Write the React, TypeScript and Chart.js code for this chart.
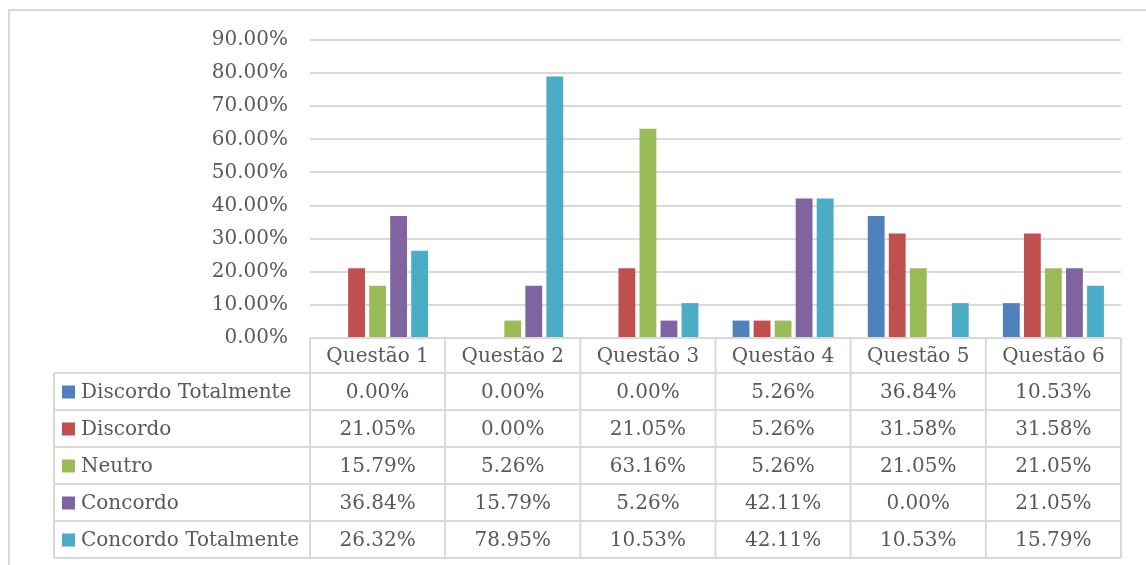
import React, { useEffect, useRef } from "react";
import { Chart, registerables } from "chart.js";

Chart.register(...registerables);

const categories = ["Questão 1", "Questão 2", "Questão 3", "Questão 4", "Questão 5", "Questão 6"];
const seriesNames = ["Discordo Totalmente", "Discordo", "Neutro", "Concordo", "Concordo Totalmente"];
const discordoTotalmente = [0.0, 0.0, 0.0, 5.26, 36.84, 10.53];
const discordo = [21.05, 0.0, 21.05, 5.26, 31.58, 31.58];
const neutro = [15.79, 5.26, 63.16, 5.26, 21.05, 21.05];
const concordo = [36.84, 15.79, 5.26, 42.11, 0.0, 21.05];
const concordoTotalmente = [26.32, 78.95, 10.53, 42.11, 10.53, 15.79];
const seriesColors = ["#4F81BD", "#C0504D", "#9BBB59", "#8064A2", "#4BACC6"];
const yMax = 90;
const yStep = 10;

const FONT = "DejaVu Serif";
const TEXT = "#595959";
const LINE = "#d9d9d9";

const W = 1146;
const H = 565;

const tablePlugin = {
  id: "dataTable",
  afterDraw(chart: any) {
    const ctx = chart.ctx as CanvasRenderingContext2D;
    const area = chart.chartArea;
    const left = area.left;
    const right = area.right;
    const top = area.bottom;
    const colW = (right - left) / categories.length;
    const headerH = 35;
    const rowH = 37;
    const legendLeft = 54;
    const bottom = top + headerH + rowH * seriesNames.length;
    const allSeries = chart.data.datasets.map((d: any) => d.data as number[]);

    ctx.save();
    // outer chart border
    ctx.strokeStyle = LINE;
    ctx.lineWidth = 2;
    ctx.beginPath();
    ctx.moveTo(9, H + 5);
    ctx.lineTo(9, 10);
    ctx.lineTo(W + 5, 10);
    ctx.stroke();

    // table grid
    ctx.lineWidth = 2;
    ctx.beginPath();
    ctx.moveTo(left, top);
    ctx.lineTo(right, top);
    for (let r = 0; r <= seriesNames.length; r++) {
      const y = top + headerH + r * rowH;
      ctx.moveTo(legendLeft, y);
      ctx.lineTo(right, y);
    }
    for (let c = 0; c <= categories.length; c++) {
      const x = left + c * colW;
      ctx.moveTo(x, top);
      ctx.lineTo(x, bottom);
    }
    ctx.moveTo(legendLeft, top + headerH);
    ctx.lineTo(legendLeft, bottom);
    ctx.stroke();

    // text
    ctx.fillStyle = TEXT;
    ctx.font = `20px "${FONT}"`;
    ctx.textBaseline = "middle";
    ctx.textAlign = "center";
    categories.forEach((cat, c) => {
      ctx.fillText(cat, left + (c + 0.5) * colW, top + headerH / 2 + 1);
    });
    seriesNames.forEach((name, r) => {
      const cy = top + headerH + r * rowH + rowH / 2 + 1;
      ctx.fillStyle = seriesColors[r];
      ctx.fillRect(62, cy - 7, 13, 13);
      ctx.fillStyle = TEXT;
      ctx.textAlign = "left";
      ctx.fillText(name, 81, cy);
      ctx.textAlign = "center";
      allSeries[r].forEach((v: number, c: number) => {
        ctx.fillText(v.toFixed(2) + "%", left + (c + 0.5) * colW, cy);
      });
    });
    ctx.restore();
  },
};

export default function App() {
  const ref = useRef<HTMLCanvasElement | null>(null);
  useEffect(() => {
    if (!ref.current) return;
    const data = [discordoTotalmente, discordo, neutro, concordo, concordoTotalmente];
    const chart = new Chart(ref.current, {
      type: "bar",
      data: {
        labels: categories,
        datasets: seriesNames.map((name, i) => ({
          label: name,
          data: data[i],
          backgroundColor: seriesColors[i],
          borderWidth: 0,
          categoryPercentage: 0.778,
          barPercentage: 0.8,
        })),
      },
      options: {
        responsive: false,
        animation: false,
        layout: { padding: { left: 0, right: 25, top: 40, bottom: 227 } },
        plugins: { legend: { display: false }, tooltip: { enabled: false } },
        scales: {
          x: { display: false },
          y: {
            min: 0,
            max: yMax,
            afterFit: (scale: any) => {
              scale.width = 310;
            },
            ticks: {
              stepSize: yStep,
              padding: 22,
              color: TEXT,
              font: { family: FONT, size: 20 },
              callback: (v: any) => Number(v).toFixed(2) + "%",
            },
            grid: { color: LINE, lineWidth: 2, drawTicks: false },
            border: { display: false },
          },
        },
      },
      plugins: [tablePlugin],
    });
    return () => chart.destroy();
  }, []);
  return (
    <div style={{ position: "absolute", left: 0, top: 0, width: W, height: H, background: "#fff" }}>
      <canvas ref={ref} width={W} height={H} style={{ width: W, height: H, display: "block" }} />
    </div>
  );
}
